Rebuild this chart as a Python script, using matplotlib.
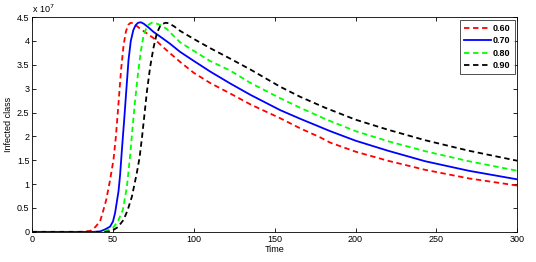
import matplotlib
matplotlib.use('Agg')
import matplotlib.pyplot as plt

# values (y in units of 1e7)
t_060 = [0, 30, 36, 39, 42, 44, 45.8, 48.2, 50.3, 51.8, 53.3, 55, 56.5, 58, 59.5, 61, 62.5, 64,
         67, 70, 75, 80, 85.3, 91.5, 100, 110, 122.4, 135, 153.4, 165.7, 178.1, 184.3, 200,
         220, 243, 270, 300]
y_060 = [0, 0, 0.02, 0.1, 0.22, 0.45, 0.67, 1.09, 1.51, 2.0, 2.65, 3.4, 3.9, 4.2, 4.34, 4.38, 4.37, 4.33,
         4.25, 4.18, 4.06, 3.9, 3.74, 3.56, 3.33, 3.12, 2.90, 2.67, 2.38, 2.17, 1.98, 1.87, 1.68,
         1.49, 1.30, 1.12, 0.97]

t_070 = [0, 38, 42, 45, 48.2, 50, 51.3, 53.4, 54.4, 55.5, 56.9, 58.3, 59.6, 61, 62.6, 64, 65.5,
         67.2, 69, 72, 75, 80, 85.3, 91.5, 100, 110, 122.4, 135, 153.4, 165.7, 184.3, 200,
         220, 243, 270, 300]
y_070 = [0, 0, 0.01, 0.05, 0.11, 0.22, 0.4, 0.85, 1.2, 1.72, 2.34, 3.0, 3.6, 4.0, 4.23, 4.33, 4.38,
         4.39, 4.36, 4.28, 4.19, 4.07, 3.94, 3.77, 3.58, 3.36, 3.11, 2.87, 2.55, 2.37, 2.11, 1.91,
         1.70, 1.48, 1.28, 1.10]

t_080 = [0, 43, 46, 50.3, 53, 56.1, 58.6, 60.6, 62, 63.5, 65.7, 67.3, 68.8, 70.5, 72, 74, 76,
         78, 80, 83.3, 87, 91.5, 100, 110, 122.4, 135, 153.4, 165.7, 182.2, 200,
         220, 243, 270, 300]
y_080 = [0, 0, 0.02, 0.1, 0.22, 0.46, 0.95, 1.6, 2.15, 2.7, 3.39, 3.8, 4.09, 4.26, 4.34, 4.38, 4.37,
         4.35, 4.32, 4.25, 4.12, 3.97, 3.79, 3.58, 3.38, 3.12, 2.80, 2.60, 2.35, 2.11,
         1.90, 1.69, 1.48, 1.28]

t_090 = [0, 46, 49.3, 53, 56.5, 59, 61.7, 64.7, 66.4, 68, 69.3, 71, 73, 75, 77.1, 79, 81, 82.5,
         84.5, 86, 88, 91.5, 100, 110, 122.4, 135, 153.4, 165.7, 181.2, 200,
         220, 243, 270, 300]
y_090 = [0, 0, 0.02, 0.1, 0.25, 0.45, 0.74, 1.23, 1.55, 2.0, 2.41, 2.95, 3.46, 3.85, 4.16, 4.3, 4.36, 4.38,
         4.37, 4.34, 4.3, 4.21, 4.04, 3.85, 3.63, 3.40, 3.04, 2.83, 2.60, 2.35,
         2.14, 1.92, 1.70, 1.49]

labels = ['0.60', '0.70', '0.80', '0.90']
x_ticks = [0, 50, 100, 150, 200, 250, 300]
y_ticks = [0, 0.5, 1, 1.5, 2, 2.5, 3, 3.5, 4, 4.5]
y_ticklabels = ['0', '0.5', '1', '1.5', '2', '2.5', '3', '3.5', '4', '4.5']

plt.rcParams['font.family'] = ['Liberation Sans', 'DejaVu Sans']
plt.rcParams['font.size'] = 6.5

fig = plt.figure(figsize=(5.36, 2.62), dpi=100)
ax = fig.add_axes([0.06, 0.115, 0.905, 0.82])

dash = (0, (3, 2))
ax.plot(t_060, y_060, color='red', lw=1.3, linestyle=dash, label=labels[0])
ax.plot(t_070, y_070, color='blue', lw=1.3, linestyle='-', label=labels[1])
ax.plot(t_080, y_080, color='#00ff00', lw=1.3, linestyle=dash, label=labels[2])
ax.plot(t_090, y_090, color='black', lw=1.3, linestyle=dash, label=labels[3])

ax.set_xlim(0, 300)
ax.set_ylim(0, 4.5)
ax.set_xticks(x_ticks)
ax.set_yticks(y_ticks)
ax.set_yticklabels(y_ticklabels)
ax.tick_params(direction='in', top=True, right=True, length=3, width=0.6, pad=2)
for s in ax.spines.values():
    s.set_linewidth(0.6)

ax.set_xlabel('Time', labelpad=1)
ax.set_ylabel('Infected class', labelpad=3)
ax.text(0, 1.01, r'x 10$^{7}$', transform=ax.transAxes, ha='left', va='bottom', fontsize=6.5)

leg = ax.legend(loc='upper right', bbox_to_anchor=(1.0, 1.0), borderaxespad=0.3,
                fancybox=False, edgecolor='black',
                handlelength=3.0, handletextpad=0.2, borderpad=0.45, labelspacing=0.38,
                prop={'weight': 'bold', 'size': 6.5})
leg.get_frame().set_linewidth(0.6)

fig.savefig('out.png', dpi=100)
